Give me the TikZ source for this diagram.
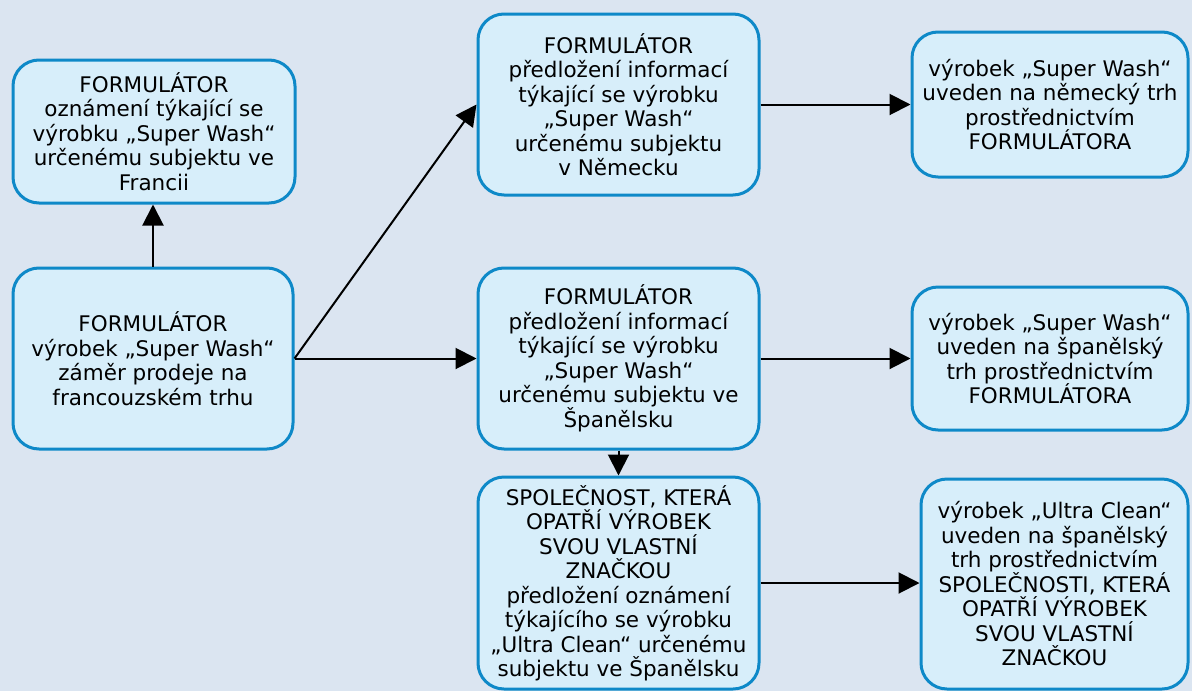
\documentclass[tikz,border=0pt]{standalone}
\usepackage{fontspec}
\setmainfont{DejaVu Sans}
\usetikzlibrary{arrows.meta}
\definecolor{bgcol}{HTML}{DBE5F1}
\definecolor{boxfill}{HTML}{D7EEFA}
\definecolor{boxline}{HTML}{0E89C8}
\tikzset{
  flowbox/.style={draw=boxline, fill=boxfill, line width=3pt, rounded corners=26pt,
    inner sep=0pt, align=center, font=\fontsize{21.5}{24.5}\selectfont},
  flowarrow/.style={draw=black, line width=2pt, -{Triangle[length=21pt,width=21pt]}}
}
\begin{document}
\begin{tikzpicture}[x=1pt,y=-1pt]
  \fill[bgcol] (0,0) rectangle (1192,691);
  \useasboundingbox (0,0) rectangle (1192,691);

  % left column
  \node[flowbox, minimum width=282pt, minimum height=143pt] (fr) at (154,131.5)
    {FORMULÁTOR\\oznámení týkající se\\výrobku „Super Wash“\\určenému subjektu ve\\Francii};
  \node[flowbox, minimum width=280pt, minimum height=181pt] (start) at (153,358.5)
    {FORMULÁTOR\\výrobek „Super Wash“\\záměr prodeje na\\francouzském trhu};

  % middle column
  \node[flowbox, minimum width=281pt, minimum height=181pt] (de) at (618.5,104.5)
    {FORMULÁTOR\\předložení informací\\týkající se výrobku\\„Super Wash“\\určenému subjektu\\v Německu};
  \node[flowbox, minimum width=281pt, minimum height=181pt] (es) at (618.5,358.5)
    {FORMULÁTOR\\předložení informací\\týkající se výrobku\\„Super Wash“\\určenému subjektu ve\\Španělsku};
  \node[flowbox, minimum width=281pt, minimum height=212pt] (brand) at (618.5,583)
    {SPOLEČNOST, KTERÁ\\OPATŘÍ VÝROBEK\\SVOU VLASTNÍ\\ZNAČKOU\\předložení oznámení\\týkajícího se výrobku\\„Ultra Clean“ určenému\\subjektu ve Španělsku};

  % right column
  \node[flowbox, minimum width=276pt, minimum height=145pt] (deout) at (1050,104.5)
    {výrobek „Super Wash“\\uveden na německý trh\\prostřednictvím\\FORMULÁTORA};
  \node[flowbox, minimum width=276pt, minimum height=143pt] (esout) at (1050,358.5)
    {výrobek „Super Wash“\\uveden na španělský\\trh prostřednictvím\\FORMULÁTORA};
  \node[flowbox, minimum width=267pt, minimum height=210pt] (brandout) at (1054.5,584)
    {výrobek „Ultra Clean“\\uveden na španělský\\trh prostřednictvím\\SPOLEČNOSTI, KTERÁ\\OPATŘÍ VÝROBEK\\SVOU VLASTNÍ\\ZNAČKOU};

  % connectors
  \draw[flowarrow] (start.north) -- (start.north |- fr.south);
  \draw[flowarrow] (start.east) -- (de.west);
  \draw[flowarrow] (start.east) -- (es.west);
  \draw[flowarrow] (de.east) -- (deout.west);
  \draw[flowarrow] (es.east) -- (esout.west);
  \draw[flowarrow] (es.south) -- (brand.north);
  \draw[flowarrow] (brand.east) -- (brand.east -| brandout.west);
\end{tikzpicture}
\end{document}
